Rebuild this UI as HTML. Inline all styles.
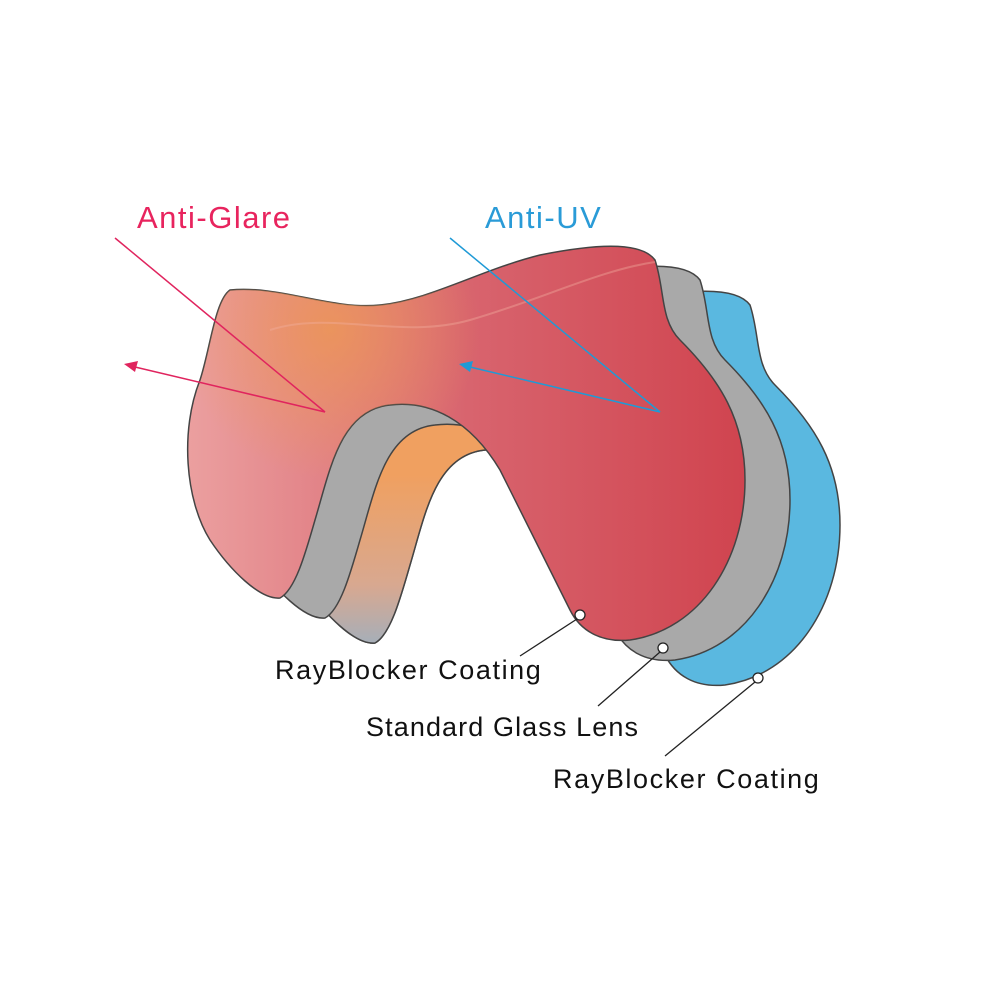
<!DOCTYPE html>
<html><head><meta charset="utf-8"><style>
html,body{margin:0;padding:0;background:#fff;}
svg{display:block;}
text{font-family:"Liberation Sans",sans-serif;}
</style></head><body>
<svg width="1000" height="1000" viewBox="0 0 1000 1000" xmlns="http://www.w3.org/2000/svg">
<defs>
<path id="lens" d="M230,290 C280,285 330,310 380,305 C430,300 480,270 540,255 C590,245 640,240 655,260 C665,290 660,320 680,340 C720,380 745,420 745,480 C745,560 700,630 630,640 C600,643 580,630 570,610 C545,560 520,510 500,470 C470,420 430,400 390,405 C340,410 330,470 315,520 C305,555 295,590 280,598 C260,600 230,570 210,540 C185,500 180,430 200,380 C210,350 215,300 230,290 Z"/>
<linearGradient id="inner" x1="0" y1="430" x2="0" y2="650" gradientUnits="userSpaceOnUse">
<stop offset="0" stop-color="#f0a060"/><stop offset="0.5" stop-color="#d8a890"/><stop offset="1" stop-color="#7ab4dc"/>
</linearGradient>
<linearGradient id="red" x1="190" y1="0" x2="745" y2="0" gradientUnits="userSpaceOnUse">
<stop offset="0" stop-color="#eb9f9f"/><stop offset="0.5" stop-color="#d8646e"/><stop offset="1" stop-color="#d0444f"/>
</linearGradient>
<radialGradient id="orange" cx="330" cy="330" r="150" gradientUnits="userSpaceOnUse">
<stop offset="0" stop-color="#ee9a50" stop-opacity="0.75"/><stop offset="1" stop-color="#ee9a50" stop-opacity="0"/>
</radialGradient>
<clipPath id="leftclip"><rect x="0" y="0" width="560" height="1000"/></clipPath>
</defs>
<use href="#lens" transform="translate(95,45)" fill="#5ab8e0" stroke="#444" stroke-width="1.5"/>
<g clip-path="url(#leftclip)">
<use href="#lens" transform="translate(95,45)" fill="url(#inner)" stroke="#444" stroke-width="1.5"/>
</g>
<use href="#lens" transform="translate(45,20)" fill="#a9a9a9" stroke="#444" stroke-width="1.5"/>
<use href="#lens" fill="url(#red)" stroke="#444" stroke-width="1.5"/>
<use href="#lens" fill="url(#orange)"/>
<path d="M270,330 C330,310 400,340 470,320 C540,300 600,270 655,262" fill="none" stroke="#f2b0a0" stroke-width="2" opacity="0.4"/>
<g stroke="#e0245e" stroke-width="1.5" fill="none">
<line x1="115" y1="238" x2="325" y2="412"/>
<line x1="325" y1="412" x2="135" y2="367"/>
</g>
<polygon points="124,364 138,361 135,372" fill="#e0245e"/>
<g stroke="#1f9ad6" stroke-width="1.5" fill="none">
<line x1="450" y1="238" x2="660" y2="412"/>
<line x1="660" y1="412" x2="470" y2="367"/>
</g>
<polygon points="459,364 473,361 470,372" fill="#1f9ad6"/>
<text x="137" y="228" font-size="31" letter-spacing="1.5" fill="#e8245e">Anti-Glare</text>
<text x="485" y="228" font-size="31" letter-spacing="1.5" fill="#2a9bd7">Anti-UV</text>
<g stroke="#222" stroke-width="1.3" fill="none">
<line x1="577" y1="619" x2="520" y2="656"/>
<circle cx="580" cy="615" r="5" fill="#fff"/>
<line x1="660" y1="652" x2="598" y2="706"/>
<circle cx="663" cy="648" r="5" fill="#fff"/>
<line x1="755" y1="682" x2="665" y2="756"/>
<circle cx="758" cy="678" r="5" fill="#fff"/>
</g>
<text x="275" y="679" font-size="27" letter-spacing="1.6" fill="#111">RayBlocker Coating</text>
<text x="366" y="736" font-size="27" letter-spacing="1.1" fill="#111">Standard Glass Lens</text>
<text x="553" y="788" font-size="27" letter-spacing="1.6" fill="#111">RayBlocker Coating</text>
</svg>
</body></html>
